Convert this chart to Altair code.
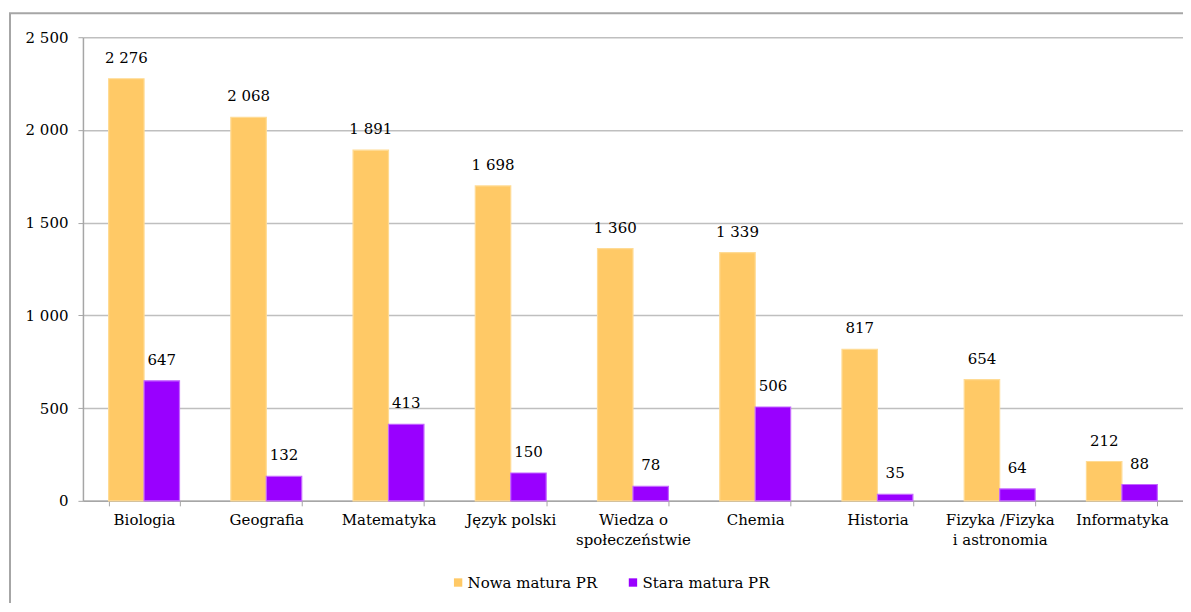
import altair as alt
import pandas as pd

categories = ["Biologia", "Geografia", "Matematyka", "Język polski",
              "Wiedza o\nspołeczeństwie", "Chemia", "Historia",
              "Fizyka /Fizyka\ni astronomia", "Informatyka"]
series = ["Nowa matura PR", "Stara matura PR"]
nowa = [2276, 2068, 1891, 1698, 1360, 1339, 817, 654, 212]
stara = [647, 132, 413, 150, 78, 506, 35, 64, 88]
colors = ["#FFC966", "#9900FF"]
strokes = ["#FFDB94", "#C466FF"]

rows = []
for c, a, b in zip(categories, nowa, stara):
    for s, v in zip(series, [a, b]):
        rows.append({"cat": c, "series": s, "value": v,
                     "label": f"{v:,}".replace(",", " ")})
df = pd.DataFrame(rows)

FONT = "DejaVu Serif"
FS = 15

x = alt.X("cat:N", sort=categories, title=None,
          scale=alt.Scale(paddingInner=0.42, paddingOuter=0.21),
          axis=alt.Axis(labelAngle=0, labelFont=FONT, labelFontSize=FS,
                        labelColor="#000000", labelPadding=7,
                        labelExpr="split(datum.label, '\\n')",
                        labelLineHeight=20,
                        domainColor="#A6A6A6", domainWidth=1.5,
                        tickColor="#A6A6A6", tickSize=5, tickBand="extent",
                        labelBaseline="top"))
xo = alt.XOffset("series:N", sort=series)
y = alt.Y("value:Q", title=None,
          scale=alt.Scale(domain=[0, 2500], nice=False),
          axis=alt.Axis(values=[0, 500, 1000, 1500, 2000, 2500],
                        labelExpr="replace(format(datum.value, ','), ',', ' ')",
                        labelFont=FONT, labelFontSize=FS, labelColor="#000000",
                        labelPadding=10, gridColor="#BFBFBF", gridWidth=1.5,
                        domainColor="#A6A6A6", domainWidth=1.5,
                        tickColor="#A6A6A6", tickSize=5))

bars = alt.Chart(df).mark_bar(strokeWidth=1.2).encode(
    x=x, xOffset=xo, y=y,
    color=alt.Color("series:N", sort=series,
                    scale=alt.Scale(domain=series, range=colors),
                    legend=alt.Legend(title=None, orient="none",
                                      legendX=368, legendY=538,
                                      direction="horizontal",
                                      symbolType="square", symbolSize=70,
                                      symbolStrokeWidth=0,
                                      labelFont=FONT, labelFontSize=FS,
                                      labelColor="#000000", labelOffset=2,
                                      columnPadding=28)),
    stroke=alt.Stroke("series:N", scale=alt.Scale(domain=series, range=strokes),
                      legend=None),
)

texts = alt.Chart(df).mark_text(font=FONT, fontSize=FS, color="#000000",
                                baseline="middle", dy=-21).encode(
    x=x, xOffset=xo, y=y, text="label:N")

frame = alt.Chart(alt.Data(values=[{"a": 1}])).mark_rect(
    fill=None, stroke="#A6A6A6", strokeWidth=2).encode(
    x=alt.value(-73), x2=alt.value(1200), y=alt.value(-24), y2=alt.value(700))

chart = alt.layer(frame, bars, texts).properties(
    width=1101, height=464,
    autosize=alt.AutoSizeParams(type="none"),
    padding={"left": 75, "top": 29, "right": 0, "bottom": 102},
    background="#FFFFFF",
).configure_view(stroke=None)

chart.save("out.html", embed_options={"renderer": "svg", "actions": False})
